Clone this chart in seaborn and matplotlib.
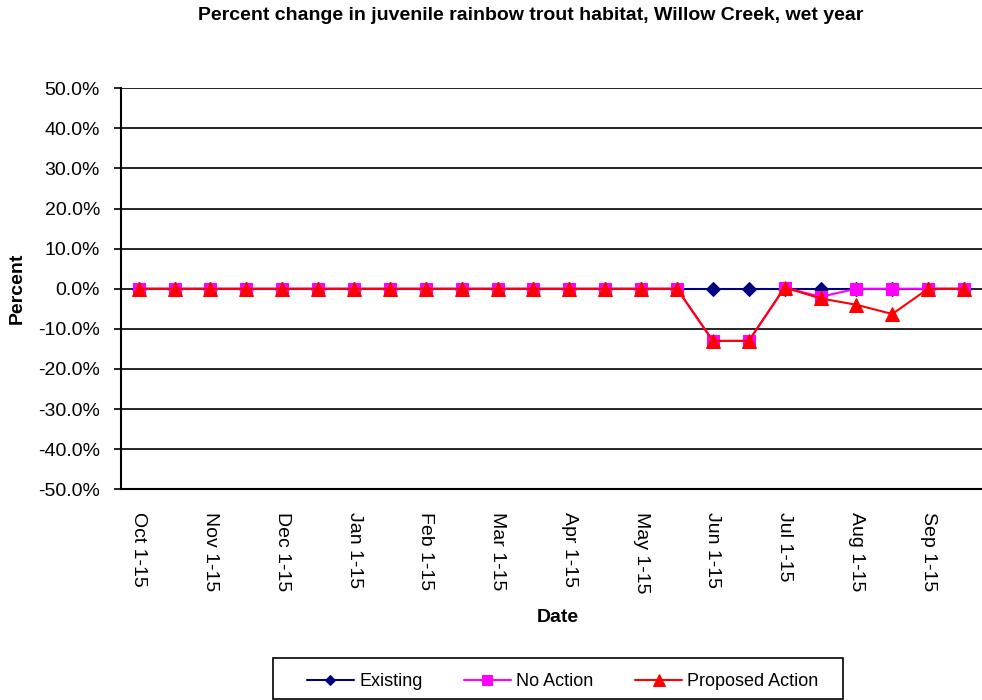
import numpy as np
import matplotlib
matplotlib.use('Agg')
import matplotlib.pyplot as plt
from matplotlib.patches import Rectangle
import seaborn as sns
import pandas as pd

periods = ['Oct 1-15', 'Oct 16-31', 'Nov 1-15', 'Nov 16-30', 'Dec 1-15', 'Dec 16-31',
           'Jan 1-15', 'Jan 16-31', 'Feb 1-15', 'Feb 16-28', 'Mar 1-15', 'Mar 16-31',
           'Apr 1-15', 'Apr 16-30', 'May 1-15', 'May 16-31', 'Jun 1-15', 'Jun 16-30',
           'Jul 1-15', 'Jul 16-31', 'Aug 1-15', 'Aug 16-31', 'Sep 1-15', 'Sep 16-30']
existing = [0.0] * 24
no_action = [0.0] * 16 + [-13.0, -13.0, 0.3, -2.0, 0.0, 0.0, 0.0, 0.0]
proposed = [0.0] * 16 + [-13.0, -13.0, 0.3, -2.4, -4.0, -6.3, 0.0, 0.0]

sns.set_style('white')
plt.rcParams['font.family'] = ['Liberation Sans', 'DejaVu Sans']
plt.rcParams['text.color'] = 'black'
plt.rcParams['xtick.color'] = 'black'
plt.rcParams['ytick.color'] = 'black'
plt.rcParams['axes.labelcolor'] = 'black'

fig = plt.figure(figsize=(9.82, 7), dpi=100)
ax = fig.add_axes([0.123, 0.301, 0.877, 0.573])

x = np.arange(len(periods))
series = [('Existing', existing, '#000080', 'D', 7),
          ('No Action', no_action, '#FF00FF', 's', 9),
          ('Proposed Action', proposed, '#FF0000', '^', 10)]
for name, vals, col, mk, ms in series:
    sns.lineplot(x=x, y=vals, ax=ax, color=col, marker=mk, markersize=ms,
                 markeredgecolor=col, linewidth=1.5, label=name, sort=False)

ax.set_ylim(-50, 50)
ax.set_xlim(-0.5, 23.25)
ax.set_yticks(np.arange(-50, 51, 10))
ax.set_yticklabels([f'{v:.1f}%' for v in np.arange(-50, 51, 10)], fontsize=14)
ax.yaxis.grid(True, color='black', linewidth=1.2)
ax.set_axisbelow(True)

ax.set_xticks(x[::2])
ax.set_xticklabels(periods[::2], rotation=-90, fontsize=14)
ax.set_xticks(np.arange(-0.5, 24, 1), minor=True)
ax.tick_params(axis='x', which='major', length=0, pad=16)
ax.tick_params(axis='x', which='minor', length=6, width=1.2, direction='out')
ax.tick_params(axis='y', length=5, width=1.2, direction='out', left=True, pad=10)

for s in ['top', 'right']:
    ax.spines[s].set_visible(False)
ax.spines['left'].set_color('black')
ax.spines['left'].set_linewidth(1.5)
ax.spines['bottom'].set_color('black')
ax.spines['bottom'].set_linewidth(1.5)

ax.set_ylabel('Percent', fontsize=14, fontweight='bold')
ax.yaxis.set_label_coords(-0.11, 0.5)
ax.set_xlabel('Date', fontsize=14, fontweight='bold')
ax.xaxis.set_label_coords(0.508, -0.299)
fig.suptitle('Percent change in juvenile rainbow trout habitat, Willow Creek, wet year',
             x=0.54, y=0.99, fontsize=14, fontweight='bold')

handles, labels = ax.get_legend_handles_labels()
ax.get_legend().remove()
leg = fig.legend(handles, labels, loc='center', bbox_to_anchor=(0.573, 0.026), ncol=3,
                 fontsize=13, frameon=False, handlelength=2.6, handletextpad=0.3,
                 columnspacing=2.3, borderpad=0.2, markerscale=0.8)
fig.patches.append(Rectangle((273 / 982, 1 / 700), 570 / 982, 41 / 700,
                             transform=fig.transFigure, fill=False,
                             edgecolor='black', linewidth=1.2))

fig.savefig('out.png', dpi=100)
